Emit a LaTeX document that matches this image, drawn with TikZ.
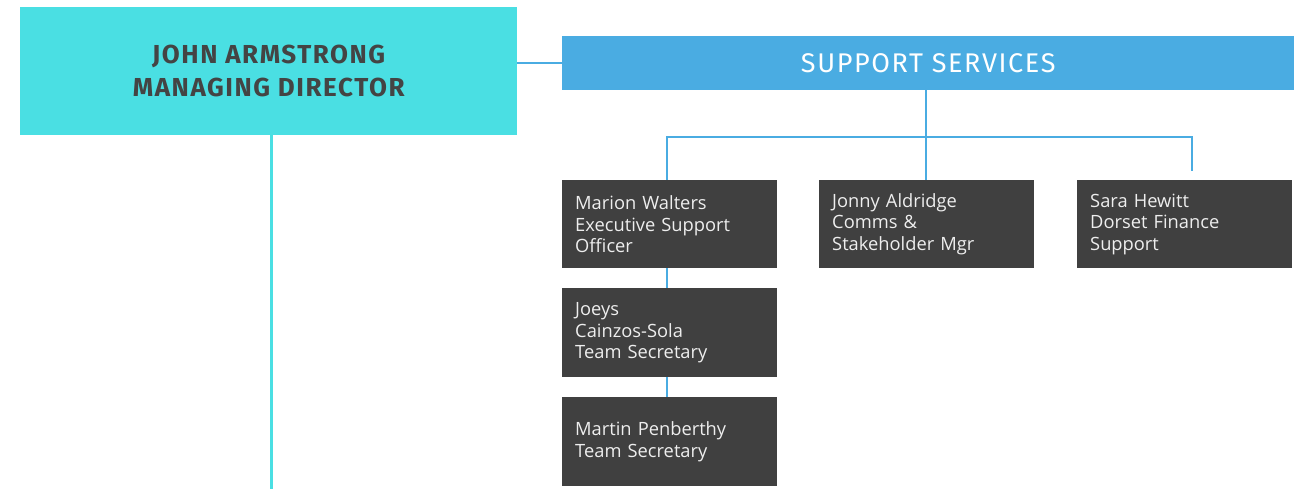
\documentclass[tikz,border=0pt]{standalone}
\usepackage{fontspec}
\setmainfont{Open Sans}
\newfontfamily\headfont[LetterSpace=6]{Fira Sans}
\usetikzlibrary{calc}
\definecolor{jacyan}{HTML}{4ADFE3}
\definecolor{ssblue}{HTML}{4AACE2}
\definecolor{darkbox}{HTML}{404040}
\definecolor{headtext}{HTML}{444444}
\definecolor{boxtext}{HTML}{EEEEEE}
\tikzset{
  headbox/.style={rectangle, fill=jacyan, anchor=north west, minimum width=497pt, minimum height=128pt, inner sep=0pt, align=center, text=headtext, font=\headfont\bfseries\fontsize{26}{33}\selectfont},
  barbox/.style={rectangle, fill=ssblue, anchor=north west, minimum width=732pt, minimum height=54pt, inner sep=0pt, text=white, font=\headfont\fontsize{27}{30}\selectfont},
  staffbox/.style={rectangle, fill=darkbox, anchor=north west, minimum width=215pt, minimum height=88pt, inner xsep=13pt, inner ysep=0pt, text width=189pt, align=left, text=boxtext, font=\fontsize{18.3}{21.5}\selectfont},
  cyanline/.style={draw=jacyan, line width=3pt},
  blueline/.style={draw=ssblue, line width=2.5pt},
}
\begin{document}
\begin{tikzpicture}[x=1pt,y=-1pt]
\useasboundingbox (0,0) rectangle (1304,489);
% coordinates for free ends
\coordinate (jaend) at (271,489);
\coordinate (bus) at (926,137);
\coordinate (shtop) at (1192,171);
% nodes
\node[headbox] (ja) at (20,7) {JOHN ARMSTRONG\\MANAGING DIRECTOR};
\node[barbox] (ss) at (562,36) {SUPPORT SERVICES};
\node[staffbox] (mw) at (562,180) {Marion Walters\\Executive Support\\Officer};
\node[staffbox] (jal) at (819,180) {Jonny Aldridge\\Comms \&\\Stakeholder Mgr};
\node[staffbox] (sh) at (1077,180) {Sara Hewitt\\Dorset Finance\\Support};
\node[staffbox, minimum height=89pt] (jc) at (562,288) {Joeys\\Cainzos-Sola\\Team Secretary};
\node[staffbox, minimum height=89pt] (mp) at (562,397) {Martin Penberthy\\Team Secretary};
% connectors
\draw[cyanline] (ja.south -| jaend) -- (jaend);
\draw[blueline] (ss.west -| ja.east) -- (ss.west);
\draw[blueline] (ss.south -| bus) -- (bus);
\draw[blueline] (mw.north -| 667,0) |- (bus) -| (shtop);
\draw[blueline] (bus) -- (jal.north -| bus);
\draw[blueline] (mw.south -| 667,0) -- (jc.north -| 667,0);
\draw[blueline] (jc.south -| 667,0) -- (mp.north -| 667,0);
\end{tikzpicture}
\end{document}
